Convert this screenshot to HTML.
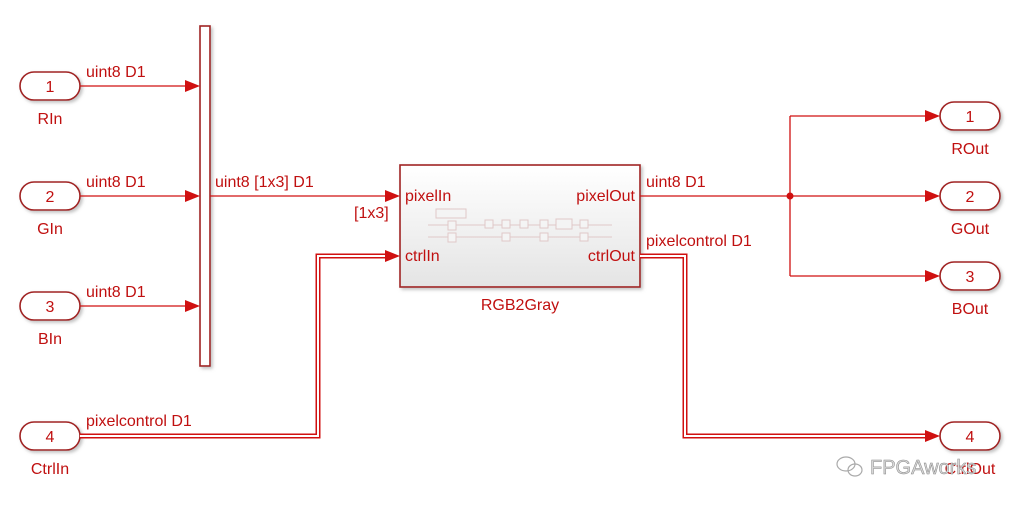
<!DOCTYPE html>
<html><head><style>
html,body{margin:0;padding:0;background:#fff;}
svg{display:block;font-family:"Liberation Sans",sans-serif;}
.t{fill:#c01010;font-size:16px;}
.l{stroke:#d01010;stroke-width:1.3;fill:none;}
.dbl{stroke:#d01010;stroke-width:5;fill:none;}
.dbi{stroke:#fff;stroke-width:2;fill:none;}
.port{fill:#fff;stroke:#a02020;stroke-width:1.6;}
.ah{fill:#d01010;}
</style></head><body>
<svg width="1035" height="509" viewBox="0 0 1035 509">
<defs>
<linearGradient id="g" x1="0" y1="0" x2="0" y2="1"><stop offset="0" stop-color="#fff"/><stop offset="1" stop-color="#e4e4e4"/></linearGradient>
<filter id="sh"><feDropShadow dx="2" dy="2" stdDeviation="1.5" flood-color="#999" flood-opacity="0.6"/></filter>
</defs>
<g filter="url(#sh)">
<rect class="port" x="20" y="72" width="60" height="28" rx="14"/>
<rect class="port" x="20" y="182" width="60" height="28" rx="14"/>
<rect class="port" x="20" y="292" width="60" height="28" rx="14"/>
<rect class="port" x="20" y="422" width="60" height="28" rx="14"/>
<rect class="port" x="940" y="102" width="60" height="28" rx="14"/>
<rect class="port" x="940" y="182" width="60" height="28" rx="14"/>
<rect class="port" x="940" y="262" width="60" height="28" rx="14"/>
<rect class="port" x="940" y="422" width="60" height="28" rx="14"/>
<rect x="200" y="26" width="10" height="340" fill="#fff" stroke="#a02020" stroke-width="1.6"/>
<rect x="400" y="165" width="240" height="122" fill="url(#g)" stroke="#a02020" stroke-width="1.6"/>
</g>
<g class="t" text-anchor="middle" font-size="17">
<text x="50" y="92">1</text><text x="50" y="202">2</text><text x="50" y="312">3</text><text x="50" y="442">4</text>
<text x="970" y="122">1</text><text x="970" y="202">2</text><text x="970" y="282">3</text><text x="970" y="442">4</text>
<text x="50" y="124">RIn</text><text x="50" y="234">GIn</text><text x="50" y="344">BIn</text><text x="50" y="474">CtrlIn</text>
<text x="970" y="154">ROut</text><text x="970" y="234">GOut</text><text x="970" y="314">BOut</text><text x="970" y="474">CtrlOut</text>
<text x="520" y="310">RGB2Gray</text>
</g>
<path class="l" d="M80 86H190 M80 196H190 M80 306H190 M210 196H390 M640 196H930 M790 116V276 M790 116H930 M790 276H930"/>
<circle cx="790" cy="196" r="3.5" class="ah"/>
<path class="dbl" d="M80 436H318V256H392"/><path class="dbi" d="M80 436H318V256H392"/>
<path class="dbl" d="M640 256H685V436H932"/><path class="dbi" d="M640 256H685V436H932"/>
<g class="ah">
<path d="M185 80L200 86L185 92Z"/><path d="M185 190L200 196L185 202Z"/><path d="M185 300L200 306L185 312Z"/>
<path d="M385 190L400 196L385 202Z"/><path d="M385 250L400 256L385 262Z"/>
<path d="M925 110L940 116L925 122Z"/><path d="M925 190L940 196L925 202Z"/><path d="M925 270L940 276L925 282Z"/><path d="M925 430L940 436L925 442Z"/>
</g>
<g class="t">
<text x="86" y="77">uint8 D1</text><text x="86" y="187">uint8 D1</text><text x="86" y="297">uint8 D1</text>
<text x="86" y="426">pixelcontrol D1</text>
<text x="215" y="187">uint8 [1x3] D1</text><text x="354" y="218">[1x3]</text>
<text x="646" y="187">uint8 D1</text><text x="646" y="246">pixelcontrol D1</text>
<text x="405" y="201">pixelIn</text><text x="405" y="261">ctrlIn</text>
<text x="635" y="201" text-anchor="end">pixelOut</text><text x="635" y="261" text-anchor="end">ctrlOut</text>
</g>
<g stroke="#e0c8c8" fill="#f4f4f4" stroke-width="1">
<path d="M428 225H612 M428 237H612" />
<rect x="436" y="209" width="30" height="9"/>
<rect x="448" y="221" width="8" height="9"/><rect x="448" y="233" width="8" height="9"/>
<rect x="485" y="220" width="8" height="8"/><rect x="502" y="220" width="8" height="8"/><rect x="520" y="220" width="8" height="8"/>
<rect x="540" y="220" width="8" height="8"/><rect x="556" y="219" width="16" height="10"/><rect x="580" y="220" width="8" height="8"/>
<rect x="502" y="233" width="8" height="8"/><rect x="540" y="233" width="8" height="8"/><rect x="580" y="233" width="8" height="8"/>
</g>
<g fill="none" stroke="#aaa" stroke-width="1.2">
<ellipse cx="846" cy="464" rx="9" ry="7"/><ellipse cx="855" cy="470" rx="7" ry="6"/>
</g>
<text x="870" y="474" font-size="20" fill="#d8d8d8" stroke="#888" stroke-width="0.5">FPGAworks</text>
</svg>
</body></html>
